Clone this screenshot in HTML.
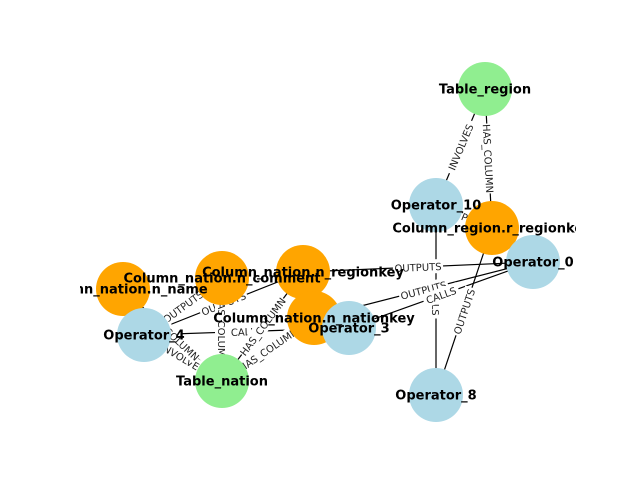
<!DOCTYPE html>
<html><head><meta charset="utf-8"><style>
body{margin:0;background:#fff}
svg text{font-family:"DejaVu Sans","Liberation Sans",sans-serif}
</style></head><body>
<svg id="g" width="640" height="480" viewBox="0 0 640 480">
<defs><clipPath id="clip"><rect x="80" y="0" width="496" height="480"/></clipPath></defs>
</svg>
<script>
const nodeNames=["Table_region","Operator_10","Column_region.r_regionkey","Operator_0","Column_nation.n_regionkey","Column_nation.n_comment","Column_nation.n_name","Column_nation.n_nationkey","Operator_3","Operator_4","Table_nation","Operator_8"];
const nodeX=[485,436,492,533,303,222,123,314,349,144,222,436];
const nodeY=[89,205,228,262,272,278,289,318,328,335,381,395];
const nodeType=["table","op","col","op","col","col","col","col","op","op","table","op"];
const edgeFrom=[0,0,1,1,4,7,8,11,9,9,9,9,9,6,5,4,7];
const edgeTo=[1,2,11,2,3,3,3,2,6,5,4,8,10,10,10,10,10];
const edgeLabel=["INVOLVES","HAS_COLUMN","CALLS","OUTPUTS","OUTPUTS","OUTPUTS","CALLS","OUTPUTS","OUTPUTS","OUTPUTS","OUTPUTS","CALLS","INVOLVES","HAS_COLUMN","HAS_COLUMN","HAS_COLUMN","HAS_COLUMN"];
const colors={table:"#90ee90",op:"#add8e6",col:"#ffa500"};
const svg=document.getElementById('g');
const NS="http://www.w3.org/2000/svg";
function mk(t,a){const e=document.createElementNS(NS,t);for(const k in a)e.setAttribute(k,a[k]);return e;}
edgeFrom.forEach((f,i)=>{
  const t=edgeTo[i];
  const l=mk('line',{x1:nodeX[f],y1:nodeY[f],x2:nodeX[t],y2:nodeY[t],stroke:'#000','stroke-width':1.2});
  
  
  svg.appendChild(l);
});
edgeFrom.forEach((f,i)=>{
  const t=edgeTo[i];
  const mx=(nodeX[f]+nodeX[t])/2,my=(nodeY[f]+nodeY[t])/2;
  let ang=Math.atan2(nodeY[t]-nodeY[f],nodeX[t]-nodeX[f])*180/Math.PI;
  if(ang>90)ang-=180; if(ang<-90)ang+=180;
  const g=mk('g',{transform:`translate(${mx},${my}) rotate(${ang})`});
  
  
  const w=edgeLabel[i].length*6.6+4;
  g.appendChild(mk('rect',{x:-w/2,y:-7,width:w,height:14,fill:'#fff'}));
  const tx=mk('text',{x:0,y:4,'text-anchor':'middle','font-size':10,fill:'#222'});
  tx.textContent=edgeLabel[i];g.appendChild(tx);
  svg.appendChild(g);
});
nodeNames.forEach((n,i)=>{
  const c=mk('circle',{cx:nodeX[i],cy:nodeY[i],r:27,fill:colors[nodeType[i]]});
  
  
  svg.appendChild(c);
});
nodeNames.forEach((n,i)=>{
  const tx=mk('text',{x:nodeX[i],y:nodeY[i]+4.5,'text-anchor':'middle','font-size':13,'font-weight':'bold',fill:'#000','clip-path':'url(#clip)'});
  
  
  tx.textContent=n;svg.appendChild(tx);
});
</script>
</body></html>
